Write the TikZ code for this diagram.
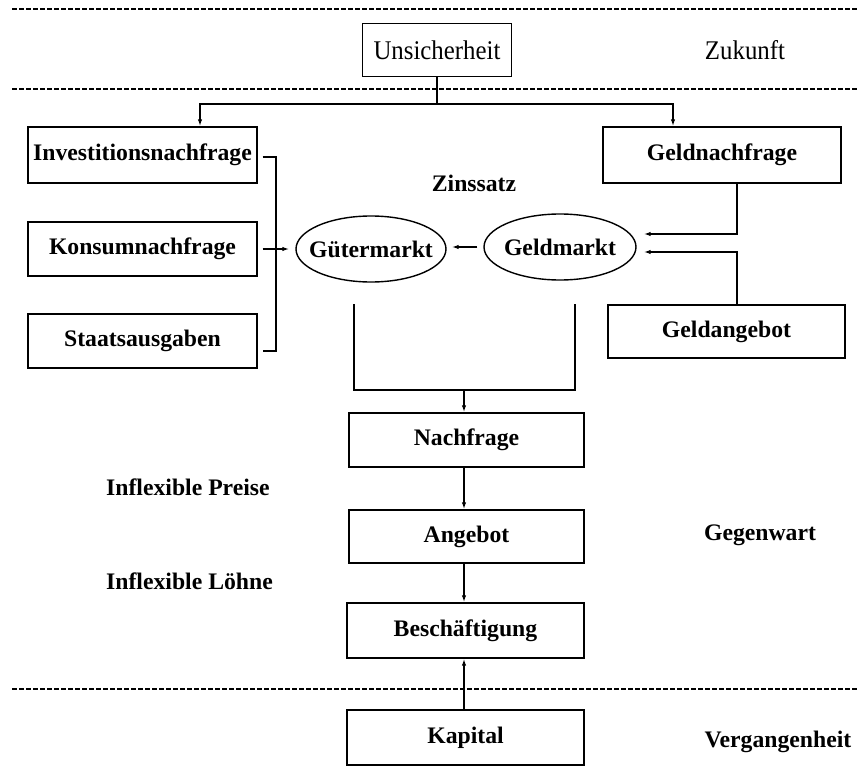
\documentclass[tikz,border=0pt]{standalone}
\usepackage{fontspec}
\setmainfont{Liberation Serif}
\newfontfamily\narrowfont{Liberation Serif}[FakeStretch=0.92]
\usetikzlibrary{arrows.meta}
\usetikzlibrary{shapes.geometric}

\tikzset{
  lbl/.style={font=\fontsize{23.7}{27}\selectfont\bfseries, inner sep=0pt},
  thinlbl/.style={font=\fontsize{27}{30}\selectfont\narrowfont, inner sep=0pt},
  box/.style={draw, line width=1.4pt, minimum width=229pt, minimum height=55pt, inner sep=0pt},
  markt/.style={draw, ellipse, line width=1.4pt, minimum width=150pt, minimum height=66pt, inner sep=0pt},
  arr/.style={-{Latex[length=7pt,width=4.5pt]}, line width=1.4pt},
  link/.style={line width=1.4pt},
  sep/.style={line width=2.6pt, dash pattern=on 4.5pt off 2.5pt},
}

\begin{document}
\begin{tikzpicture}[x=1pt, y=-1pt]
\useasboundingbox (0,0) rectangle (857,768);

\foreach \y in {9, 89, 689} \draw[sep] (12,\y) -- (857,\y);

% Zukunft
\node[box, thinlbl, minimum width=149pt, minimum height=53pt] (unsich) at (437,50) {Unsicherheit};
\node[thinlbl] (zukunft) at (745,50) {Zukunft};

% Gegenwart
\node[box, lbl, minimum height=56pt] (invest) at (142.5,155) {Investitionsnachfrage};
\node[box, lbl, minimum height=54pt] (konsum) at (142.5,249) {Konsumnachfrage};
\node[box, lbl, minimum height=54pt] (staat) at (142.5,341) {Staatsausgaben};
\node[box, lbl, minimum width=238pt, minimum height=56pt] (geldnf) at (722,155) {Geldnachfrage};
\node[box, lbl, minimum width=237pt, minimum height=53pt] (geldang) at (726.5,331.5) {Geldangebot};
\node[markt, lbl] (guter) at (371,249) {\makebox[0pt]{Gütermarkt}};
\node[markt, lbl, minimum width=152pt] (geldm) at (560,247) {\makebox[0pt]{Geldmarkt}};
\node[lbl] (zins) at (474,183) {Zinssatz};
\node[box, lbl, minimum width=235pt, minimum height=54pt] (nachfrage) at (466.5,440) {Nachfrage};
\node[box, lbl, minimum width=235pt, minimum height=53pt] (angebot) at (466.5,536.5) {Angebot};
\node[box, lbl, minimum width=237pt] (besch) at (465.5,630.5) {Beschäftigung};
\node[lbl, anchor=west] (preise) at (106,487) {Inflexible Preise};
\node[lbl, anchor=west] (lohne) at (106,581) {Inflexible Löhne};
\node[lbl] (gegenwart) at (760,535) {Gegenwart};

% Vergangenheit
\node[box, lbl, minimum width=237pt] (kapital) at (465.5,737.5) {Kapital};
\node[lbl] (vergangen) at (778,742) {Vergangenheit};

\coordinate (split) at (437,104);
\draw[link] (unsich) -- (split);
\draw[arr] (split) -| ([xshift=57.5pt]invest.north);
\draw[arr] (split) -| ([xshift=-49pt]geldnf.north);

\coordinate (brtop) at (276,157);
\coordinate (brbot) at (276,351);
\draw[link] ([xshift=5pt,yshift=-2pt]invest.east) -- (brtop) -- (brbot) -- ([xshift=5pt,yshift=-10pt]staat.east);
\draw[arr] ([xshift=5pt]konsum.east) -- ([xshift=-6pt]guter.west);
\draw[arr] ([xshift=-6pt]geldm.west) -- ([xshift=5pt]guter.east |- geldm.west);

\draw[arr] ([xshift=15pt]geldnf.south) |- ([xshift=7pt,yshift=13pt]geldm.east);
\draw[arr] ([xshift=10.5pt]geldang.north) |- ([xshift=7pt,yshift=-5pt]geldm.east);

\coordinate (gl) at (354,304);
\coordinate (gr) at (575,304);
\coordinate (join) at (464,390);
\draw[link] (gl) |- (join) -| (gr);
\draw[arr] (join) -- (join |- nachfrage.north);

\draw[arr] (nachfrage.south -| join) -- (angebot.north -| join);
\draw[arr] (angebot.south -| join) -- (besch.north -| join);
\draw[arr] (kapital.north -| join) -- (besch.south -| join);
\end{tikzpicture}
\end{document}
